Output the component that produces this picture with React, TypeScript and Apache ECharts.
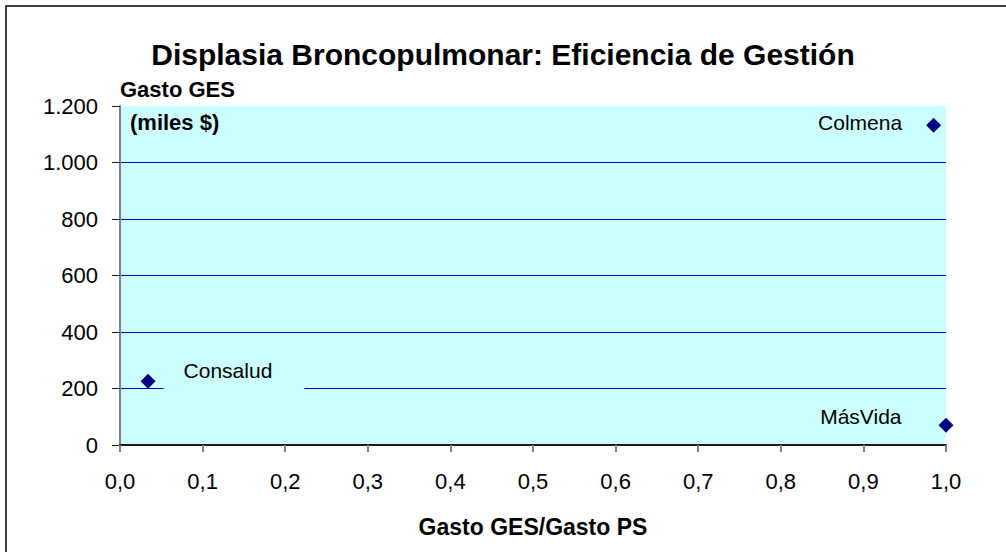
import React, { useEffect, useRef } from "react";
import * as echarts from "echarts";

const TITLE = "Displasia Broncopulmonar: Eficiencia de Gestión";
const X_NAME = "Gasto GES/Gasto PS";
const Y_NAME_1 = "Gasto GES";
const Y_NAME_2 = "(miles $)";

const names = ["Colmena", "Consalud", "MásVida"];
const xValues = [0.985, 0.034, 1.0];
const yValues = [1132, 226, 70];

const FONT = "'Liberation Sans', Arial, sans-serif";

export default function App() {
  const ref = useRef<HTMLDivElement>(null);
  useEffect(() => {
    if (!ref.current) return;
    const chart = echarts.init(ref.current, undefined, { renderer: "svg" });
    const labelCfg: any[] = [
      { position: "left", distance: 24, offset: [0, -3] },
      {
        position: "right",
        distance: 8,
        offset: [0, -11],
        backgroundColor: "#CCFFFF",
        padding: [6, 32, 12, 20],
      },
      { position: "left", distance: 37, offset: [0, -9] },
    ];
    const data = names.map((n, i) => ({
      name: n,
      value: [xValues[i], yValues[i]],
      label: {
        show: true,
        formatter: n,
        color: "#000",
        fontSize: 21,
        lineHeight: 22,
        fontFamily: FONT,
        ...labelCfg[i],
      },
    }));
    chart.setOption({
      animation: false,
      backgroundColor: "#fff",
      textStyle: { fontFamily: FONT },
      title: {
        text: TITLE,
        left: "center",
        top: 34,
        textStyle: { fontSize: 30, fontWeight: "bold", color: "#000", fontFamily: FONT },
      },
      grid: { left: 120, top: 106, right: 60, bottom: 107, backgroundColor: "#CCFFFF", show: true, borderWidth: 0 },
      xAxis: {
        type: "value",
        min: 0,
        max: 1,
        interval: 0.1,
        name: X_NAME,
        nameLocation: "middle",
        nameGap: 70,
        nameTextStyle: { fontSize: 23, fontWeight: "bold", color: "#000", fontFamily: FONT },
        axisLine: { show: true, lineStyle: { color: "#1a1a1a", width: 2 } },
        axisTick: { show: true, length: 7, lineStyle: { color: "#808080", width: 2 } },
        axisLabel: {
          fontSize: 22,
          color: "#000",
          margin: 25,
          fontFamily: FONT,
          formatter: (v: number) => v.toFixed(1).replace(".", ","),
        },
        splitLine: { show: false },
      },
      yAxis: {
        type: "value",
        min: 0,
        max: 1200,
        interval: 200,
        name: `{a|${Y_NAME_1}}\n{b|${Y_NAME_2}}`,
        nameLocation: "end",
        nameGap: 33,
        nameTextStyle: {
          align: "left",
          verticalAlign: "top",
          rich: {
            a: { fontSize: 22, fontWeight: "bold", color: "#000", fontFamily: FONT, lineHeight: 33 },
            b: { fontSize: 22, fontWeight: "bold", color: "#000", fontFamily: FONT, lineHeight: 33, padding: [0, 0, 0, 10] },
          },
        },
        axisLine: { show: true, lineStyle: { color: "#808080", width: 2 } },
        axisTick: { show: true, inside: false, length: 8, lineStyle: { color: "#1a1a1a", width: 1 } },
        axisLabel: {
          fontSize: 22,
          color: "#000",
          margin: 22,
          fontFamily: FONT,
          formatter: (v: number) => (v >= 1000 ? `${Math.floor(v / 1000)}.${String(v % 1000).padStart(3, "0")}` : String(v)),
        },
        splitLine: { show: true, showMaxLine: false, lineStyle: { color: "#0000CC", width: 1 } },
      },
      series: [
        {
          type: "scatter",
          symbol: "diamond",
          symbolSize: 15,
          itemStyle: { color: "#000080", opacity: 1 },
          data,
          z: 3,
        },
      ],
      graphic: [
        {
          type: "rect",
          shape: { x: 6, y: 6, width: 1100, height: 600 },
          style: { fill: "none", stroke: "#000", lineWidth: 1.5 },
          silent: true,
        },
      ],
    });
    return () => chart.dispose();
  }, []);
  return (
    <div
      ref={ref}
      style={{ width: 1006, height: 552, position: "absolute", left: 0, top: 0 }}
    />
  );
}
